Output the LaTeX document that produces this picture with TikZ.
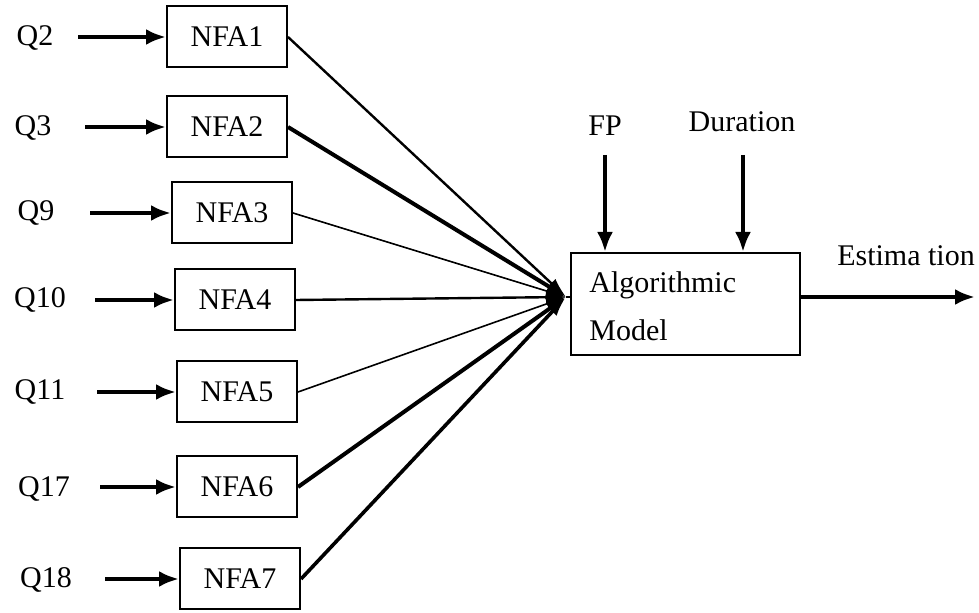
\documentclass[tikz,border=0pt]{standalone}
\usepackage{fontspec}
\setmainfont{Liberation Serif}
\usetikzlibrary{arrows.meta,positioning}

\begin{document}
\begin{tikzpicture}[x=0.5pt, y=-0.5pt,
    nfa/.style={draw, line width=1pt, minimum width=60pt, minimum height=30.5pt, inner sep=0, font=\rmfamily\fontsize{15}{17}\selectfont},
    lbl/.style={font=\rmfamily\fontsize{15}{17}\selectfont, inner sep=0},
    inarrow/.style={line width=2pt, -{Latex[length=10pt,width=8pt]}},
    feed/.style={-{Latex[length=10pt,width=6pt]}}
]
\useasboundingbox (0,0) rectangle (979,613);

% NFA boxes
\node[nfa] (n1) at (227,37) {NFA1};
\node[nfa] (n2) at (227,127) {NFA2};
\node[nfa] (n3) at (232,213) {NFA3};
\node[nfa] (n4) at (235,300) {NFA4};
\node[nfa] (n5) at (237,392) {NFA5};
\node[nfa] (n6) at (237,487) {NFA6};
\node[nfa] (n7) at (240,579) {NFA7};

% questions
\node[lbl] (q2) at (35,38) {Q2};
\node[lbl] (q3) at (33,128) {Q3};
\node[lbl] (q9) at (36,213) {Q9};
\node[lbl] (q10) at (40,300) {Q10};
\node[lbl] (q11) at (40,392) {Q11};
\node[lbl] (q17) at (44,489) {Q17};
\node[lbl] (q18) at (46,580) {Q18};

\draw[inarrow] (78,37) coordinate (s2) -- (n1.west);
\draw[inarrow] (85,127) coordinate (s3) -- (n2.west);
\draw[inarrow] (90,213) coordinate (s9) -- (n3.west);
\draw[inarrow] (95,300) coordinate (s10) -- (n4.west);
\draw[inarrow] (97,392) coordinate (s11) -- (n5.west);
\draw[inarrow] (100,487) coordinate (s17) -- (n6.west);
\draw[inarrow] (105,579) coordinate (s18) -- (n7.west);

% model
\node[draw, line width=1pt, minimum width=114.5pt, minimum height=51pt, inner sep=0] (model) at (685.5,304) {};
\node[lbl, anchor=west] (alg) at (589,285) {Algorithmic};
\node[lbl, anchor=west] (mod) at (589,330) {Model};
\coordinate (hub) at (566,297);

% converging lines
\draw[feed, line width=1.2pt] (n1.east) -- (hub);
\draw[feed, line width=2pt] (n2.east) -- (hub);
\draw[feed, line width=0.8pt] (n3.east) -- (hub);
\draw[feed, line width=1.2pt] (n4.east) -- (hub);
\draw[feed, line width=0.8pt] (n5.east) -- (hub);
\draw[feed, line width=2pt] (n6.east) -- (hub);
\draw[feed, line width=1.8pt] (n7.east) -- (hub);
\draw[line width=1pt] (hub) -- (model.west |- hub);

% top inputs and output
\node[lbl] (fp) at (605,126) {FP};
\node[lbl] (dur) at (742,122) {Duration};
\draw[inarrow] (fp.south |- 0,155) coordinate (fptop) -- (fptop |- model.north);
\draw[inarrow] (743,155) coordinate (durtop) -- (durtop |- model.north);
\node[lbl] (est) at (906,256) {Estima tion};
\draw[inarrow] (model.east |- hub) -- (975,297) coordinate (out);
\end{tikzpicture}
\end{document}
